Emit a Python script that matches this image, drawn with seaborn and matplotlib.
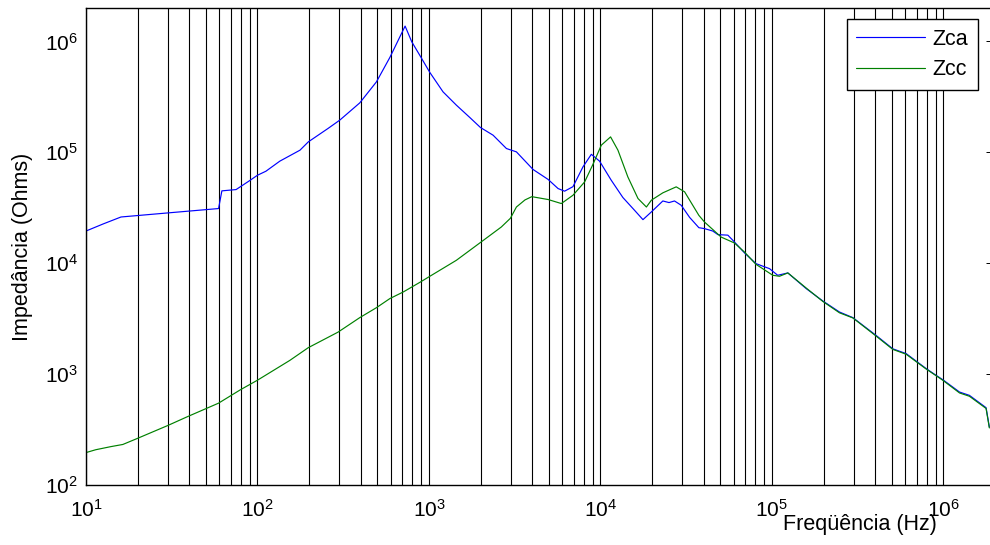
import numpy as np
import pandas as pd
import matplotlib
matplotlib.use("Agg")
import matplotlib.pyplot as plt
import seaborn as sns
from matplotlib.ticker import LogLocator

# ---- data (Hz, Ohms) ----
freq_zca = [10, 12.6, 16, 30, 59.3, 62, 75, 89.5, 100, 112, 135, 177, 198, 258, 302,
            395, 494, 592, 726, 794, 883, 1012, 1208, 1445, 1730, 1995, 2366, 2831,
            3236, 4046, 4955, 5662, 6180, 6918, 7907, 8851, 9886, 11560, 13520, 15810,
            17700, 19820, 23120, 25120, 27040, 29580, 33110, 37500, 40460, 45190, 48420,
            55340, 59160, 69180, 80720, 96830, 108100, 123900, 158500, 198200, 247700,
            296500, 405500, 507000, 606700, 794300, 907800, 993100, 1242000, 1419000,
            1774000, 1854000]
zca = [19500, 22600, 26100, 28400, 31100, 44900, 46100, 55200, 62100, 67500, 83200,
       104500, 124200, 164100, 195000, 279000, 431500, 717800, 1374000, 990800, 751600,
       524800, 350800, 266100, 206100, 167500, 142600, 108100, 100900, 70000, 56900,
       47100, 44600, 49000, 73800, 95900, 83200, 56000, 39100, 30000, 24700, 29000,
       36400, 35200, 36400, 33300, 25900, 20900, 20500, 19500, 18100, 17900, 16100,
       12400, 9910, 8930, 7780, 8170, 5900, 4560, 3630, 3230, 2230, 1690, 1530, 1120,
       973, 889, 689, 643, 498, 333]

freq_zcc = [10, 11.4, 14, 16.4, 19.7, 30, 39.3, 59.3, 79.6, 100, 154.5, 197.7, 295, 395,
            494, 592, 708, 891, 1012, 1445, 1977, 2642, 2985, 3236, 3631, 3981, 4955,
            5916, 6918, 8091, 9036, 10120, 11460, 12650, 14450, 16560, 18540, 19820,
            23120, 27670, 30970, 37500, 40460, 50580, 60530, 69180, 80720, 101200,
            110700, 123900, 158500, 198200, 247700, 296500, 405500, 507000, 606700,
            794300, 907800, 993100, 1242000, 1419000, 1774000, 1854000]
zcc = [196, 208, 222, 232, 261, 344, 415, 547, 723, 881, 1330, 1730, 2390, 3230, 3970,
       4800, 5500, 6760, 7620, 10620, 15200, 21200, 25400, 32100, 37200, 39800, 37500,
       34500, 41000, 54100, 77600, 115900, 137700, 104500, 60000, 38300, 32100, 37000,
       43100, 48800, 44000, 27000, 23500, 17200, 15200, 12600, 9770, 7780, 7620, 8170,
       5970, 4520, 3570, 3210, 2200, 1670, 1510, 1110, 966, 879, 676, 631, 490, 327]

series_names = ["Zca", "Zcc"]
series_colors = ["#0000ff", "#008000"]
x_label = "Freqüência (Hz)"
y_label = "Impedância (Ohms)"

df_a = pd.DataFrame({"f": freq_zca, "z": zca})
df_c = pd.DataFrame({"f": freq_zcc, "z": zcc})

sns.set_style("white")
plt.rcParams["font.family"] = ["Liberation Sans", "DejaVu Sans"]
plt.rcParams["mathtext.fontset"] = "custom"
plt.rcParams["mathtext.rm"] = "Liberation Sans"
plt.rcParams["mathtext.it"] = "Liberation Sans:italic"
plt.rcParams["mathtext.bf"] = "Liberation Sans:bold"
plt.rcParams["mathtext.default"] = "regular"
for key in ["text.color", "axes.labelcolor", "xtick.color", "ytick.color"]:
    plt.rcParams[key] = "black"

fig = plt.figure(figsize=(9.9, 5.45), dpi=100)
ax = fig.add_axes([86 / 990, (545 - 485) / 545, (995 - 86) / 990, (485 - 8) / 545])

ax.set_xscale("log")
ax.set_yscale("log")

sns.lineplot(data=df_a, x="f", y="z", ax=ax, color=series_colors[0], lw=0.85,
             label=series_names[0], estimator=None, sort=False)
sns.lineplot(data=df_c, x="f", y="z", ax=ax, color=series_colors[1], lw=0.85,
             label=series_names[1], estimator=None, sort=False)

ax.set_xlim(10, 2e6)
ax.set_ylim(100, 2e6)

ax.xaxis.set_major_locator(LogLocator(base=10, numticks=20))
ax.xaxis.set_minor_locator(LogLocator(base=10, subs=np.arange(2, 10), numticks=20))
ax.yaxis.set_major_locator(LogLocator(base=10, numticks=20))
ax.yaxis.set_minor_locator(LogLocator(base=10, subs=np.arange(2, 10), numticks=20))

ax.set_axisbelow(True)
ax.xaxis.grid(True, which="both", color="black", lw=0.8, ls="-")
ax.yaxis.grid(False, which="both")

for s in ax.spines.values():
    s.set_visible(True)
    s.set_color("black")
    s.set_linewidth(1.0)

ax.tick_params(which="both", direction="in", top=True, right=True, color="black",
               labelcolor="black", width=0.7)
ax.tick_params(which="major", length=6.5, labelsize=15, pad=6)
ax.tick_params(which="minor", length=4)
ax.tick_params(axis="y", which="minor", right=False)
ax.tick_params(axis="x", which="major", pad=10)

ax.set_xlabel(x_label, fontsize=15.5, va="top", color="black")
ax.set_ylabel(y_label, fontsize=15.5, color="black")
ax.xaxis.set_label_coords((860 - 86) / 909, -(514 - 485) / 477)
ax.yaxis.set_label_coords(-(86 - 33) / 909, 0.5)

leg = ax.legend(loc="upper right", bbox_to_anchor=((978 - 86) / 909, (485 - 19) / 477),
                borderaxespad=0, fontsize=15.5, frameon=True, fancybox=False,
                framealpha=1, edgecolor="black", handlelength=3.2, handletextpad=0.35,
                labelspacing=0.45, borderpad=0.45)
leg.get_frame().set_linewidth(1.0)
for t in leg.get_texts():
    t.set_color("black")

fig.savefig("out.png", dpi=100)
